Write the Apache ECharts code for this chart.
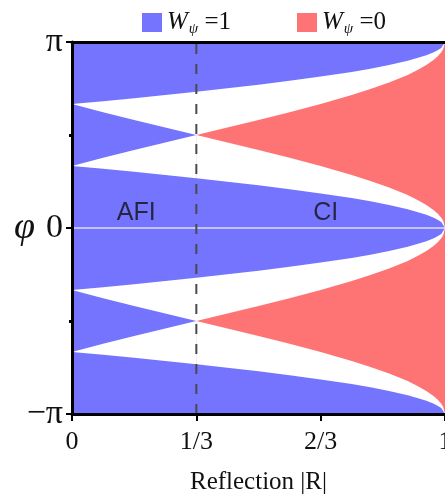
<!DOCTYPE html>
<html>
<head>
<meta charset="utf-8">
<script src="https://cdn.jsdelivr.net/npm/echarts@6/dist/echarts.min.js"></script>
<style>
html, body { margin: 0; padding: 0; background: #fff; }
#chart { width: 445px; height: 499px; }
</style>
</head>
<body>
<div id="chart"></div>
<script>
// reflection |R| sample points along the boundaries
const rGrid = [0, 1/12, 1/6, 1/4, 1/3, 5/12, 1/2, 7/12, 2/3, 0.75, 0.8, 0.85, 0.9, 0.93, 0.95, 0.97, 0.98, 0.99, 0.995, 1]

// boundaries in the upper half, phi in units of pi
const phiLowGap  = [0.333, 0.318, 0.302, 0.285, 0.268, 0.249, 0.230, 0.209, 0.186, 0.161, 0.144, 0.124, 0.101, 0.084, 0.071, 0.055, 0.045, 0.032, 0.022, 0]
const phiHighGap = [0.667, 0.682, 0.698, 0.715, 0.732, 0.751, 0.770, 0.791, 0.814, 0.839, 0.856, 0.876, 0.899, 0.916, 0.929, 0.945, 0.955, 0.968, 0.978, 1]
const phiRise    = [0.333, 0.378, 0.420, 0.460, 0.500, 0.540, 0.580, 0.622, 0.667, 0.715, 0.747, 0.782, 0.823, 0.853, 0.876, 0.904, 0.922, 0.945, 0.961, 1]
const phiFall    = [0.667, 0.622, 0.580, 0.540, 0.500, 0.460, 0.420, 0.378, 0.333, 0.285, 0.253, 0.218, 0.177, 0.147, 0.124, 0.096, 0.078, 0.055, 0.039, 0]

// phase transition AFI -> CI
const rTransition = 1/3

const xTickLabels = ['0', '1/3', '2/3', '1']
const legendNames = ['W1', 'W0']
const legendValues = ['1', '0']

const annotations = [
	{ name: 'AFI', value: [0.172, 0.08] },
	{ name: 'CI', value: [0.68, 0.08] },
]
const whiteLines = [0, -1]

const BLUE = '#7474fe'
const RED = '#fe7474'
const WHITE = '#ffffff'
const SERIF = 'Liberation Serif'

const iSplit = rGrid.indexOf(rTransition)
const iEnd = rGrid.length - 1

// points of one boundary over [from, to], mirrored when sign is -1
const pts = (vals, from, to, sign) => rGrid.slice(from, to + 1).map((r, k) => [r, sign * vals[from + k]])

let zCount = 1
const band = (name, color, data) => ({
	name: name,
	type: 'line',
	data: data,
	z: zCount++,
	silent: true,
	showSymbol: false,
	symbol: 'none',
	color: color,
	lineStyle: { width: 0, opacity: 0 },
	areaStyle: { color: color, opacity: 1, origin: 'start' },
})

const layers = [
	// upper half
	band('gap', WHITE, pts(phiHighGap, 0, iEnd, 1)),
	band('W1', BLUE, pts(phiFall, 0, iSplit, 1)),
	band('W0', RED, pts(phiRise, iSplit, iEnd, 1)),
	band('gap', WHITE, pts(phiRise, 0, iSplit, 1)),
	band('gap', WHITE, pts(phiFall, iSplit, iEnd, 1)),
	band('W1', BLUE, pts(phiLowGap, 0, iEnd, 1)),
	// lower half
	band('gap', WHITE, pts(phiLowGap, 0, iEnd, -1)),
	band('W1', BLUE, pts(phiRise, 0, iSplit, -1)),
	band('W0', RED, pts(phiFall, iSplit, iEnd, -1)),
	band('gap', WHITE, pts(phiFall, 0, iSplit, -1)),
	band('gap', WHITE, pts(phiRise, iSplit, iEnd, -1)),
	band('W1', BLUE, pts(phiHighGap, 0, iEnd, -1)),
]

const extras = [
	...whiteLines.map((v) => ({
		name: 'line',
		type: 'line',
		z: 20,
		silent: true,
		symbol: 'none',
		data: [[0, v], [1, v]],
		lineStyle: { color: '#ffffff', width: 1.5, opacity: 0.75 },
	})),
	{
		name: 'transition',
		type: 'line',
		z: 21,
		silent: true,
		symbol: 'none',
		data: [[rTransition, -1], [rTransition, 1]],
		lineStyle: { color: '#4a4a4a', width: 2, type: [10, 10] },
	},
	{
		name: 'phase',
		type: 'scatter',
		z: 22,
		silent: true,
		symbolSize: 0,
		data: annotations,
		label: {
			show: true,
			position: 'inside',
			formatter: (p) => p.name,
			fontFamily: 'Liberation Sans',
			fontSize: 25,
			color: '#111',
		},
	},
]

const chart = echarts.init(document.getElementById('chart'))

const option = {
	animation: false,
	backgroundColor: '#fff',
	grid: {
		left: 72,
		right: 0,
		top: 42,
		bottom: 85,
		containLabel: false,
		outerBoundsMode: 'none',
		show: true,
		backgroundColor: BLUE,
		borderWidth: 0,
	},
	legend: {
		data: legendNames.map((n) => ({ name: n, icon: 'rect' })),
		left: 142,
		top: 10,
		padding: 0,
		itemWidth: 20,
		itemHeight: 19,
		itemGap: 66,
		selectedMode: false,
		formatter: (name) => `{w|W}{s|ψ}{e| =${legendValues[legendNames.indexOf(name)]}}`,
		textStyle: {
			color: '#111',
			fontFamily: SERIF,
			fontSize: 25,
			rich: {
				w: { fontFamily: SERIF, fontStyle: 'italic', fontSize: 25, color: '#111' },
				s: { fontFamily: SERIF, fontStyle: 'italic', fontSize: 15, color: '#111', padding: [14, 0, 0, 1] },
				e: { fontFamily: SERIF, fontSize: 25, color: '#111' },
			},
		},
	},
	xAxis: [
		{
			type: 'value',
			min: 0,
			max: 1,
			interval: 1/3,
			z: 30,
			name: 'Reflection |R|',
			nameLocation: 'middle',
			nameGap: 56,
			nameMoveOverlap: false,
			nameTextStyle: { fontFamily: SERIF, fontSize: 25, color: '#111' },
			axisLine: { show: true, onZero: false, lineStyle: { color: '#000', width: 3 } },
			axisTick: { show: true, length: 7, lineStyle: { color: '#000', width: 2 } },
			axisLabel: {
				margin: 15,
				fontFamily: SERIF,
				fontSize: 26,
				color: '#111',
				showMaxLabel: true,
				formatter: (v) => xTickLabels[Math.round(v * 3)],
			},
			splitLine: { show: false },
		},
		{
			type: 'value',
			position: 'top',
			min: 0,
			max: 1,
			z: 30,
			axisLine: { show: true, onZero: false, lineStyle: { color: '#000', width: 3 } },
			axisTick: { show: false },
			axisLabel: { show: false },
			splitLine: { show: false },
		},
	],
	yAxis: {
		type: 'value',
		min: -1,
		max: 1,
		interval: 1,
		z: 30,
		name: 'φ',
		nameLocation: 'middle',
		nameRotate: 0,
		nameGap: 37,
		nameMoveOverlap: false,
		nameTextStyle: { fontFamily: SERIF, fontStyle: 'italic', fontSize: 38, color: '#111' },
		axisLine: { show: true, onZero: false, lineStyle: { color: '#000', width: 3 } },
		axisTick: { show: true, length: 6, lineStyle: { color: '#000', width: 2 } },
		minorTick: { show: true, splitNumber: 2, length: 3, lineStyle: { color: '#000', width: 3 } },
		axisLabel: {
			margin: 9,
			fontFamily: SERIF,
			fontSize: 34,
			color: '#111',
			formatter: (v) => (v === 1 ? 'π' : v === 0 ? '0' : v === -1 ? '−π' : ''),
		},
		splitLine: { show: false },
		minorSplitLine: { show: false },
	},
	series: [...layers, ...extras],
}

chart.setOption(option)
</script>
</body>
</html>
